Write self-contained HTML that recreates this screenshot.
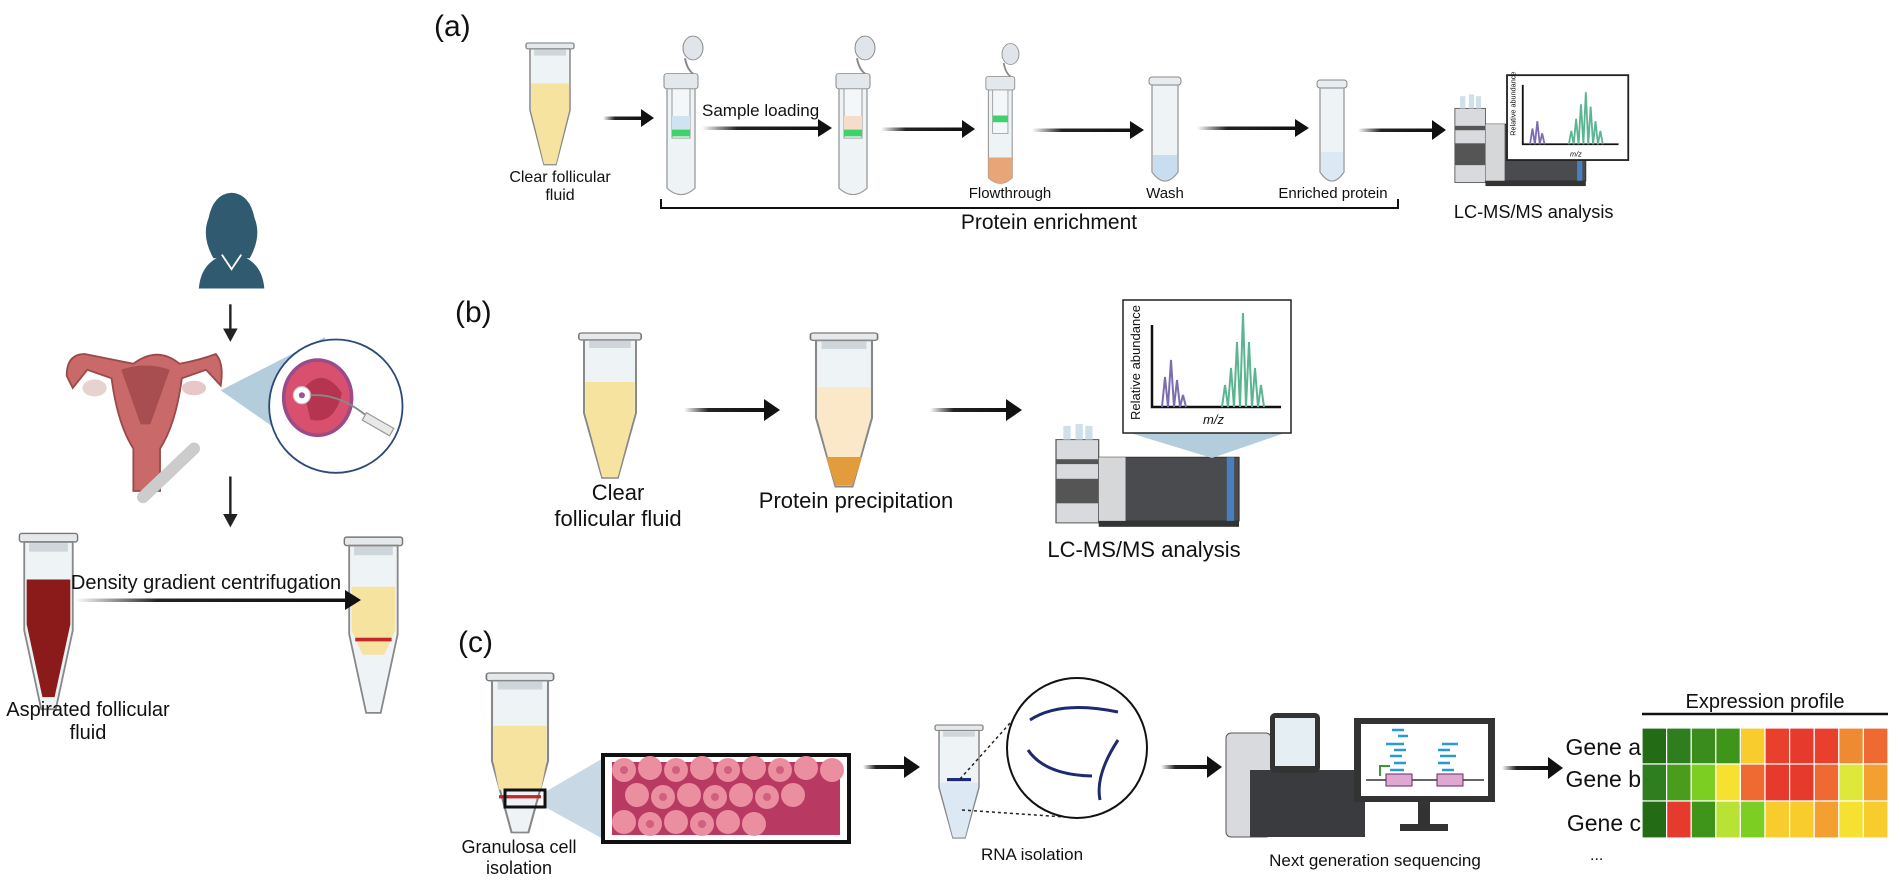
<!DOCTYPE html>
<html><head><meta charset="utf-8"><style>
html,body{margin:0;padding:0;background:#fff;overflow:hidden;}
svg{display:block;font-family:"Liberation Sans",sans-serif;}
</style></head><body>
<svg width="1901" height="886" viewBox="0 0 1901 886" xmlns="http://www.w3.org/2000/svg">
<defs>
<linearGradient id="ag" x1="0" x2="1" y1="0" y2="0"><stop offset="0" stop-color="#fff"/><stop offset="0.3" stop-color="#222"/><stop offset="1" stop-color="#111"/></linearGradient>
<g id="tube">
<rect x="-4" y="0" width="48" height="7" rx="2" fill="#e6e9ec" stroke="#777" stroke-width="1.2"/>
<path d="M0,7 L40,7 L40,80 L26,145 L14,145 L0,80 Z" fill="#eef3f6" stroke="#888" stroke-width="1.5"/>
<rect x="4" y="8" width="32" height="7" fill="#cfd6db"/>
</g>
<g id="col">
<path d="M4,0 L32,0 L32,125 Q18,140 4,125 Z" fill="#eef3f6" stroke="#999" stroke-width="1.3"/>
<rect x="1" y="-10" width="34" height="18" rx="3" fill="#e3e8ec" stroke="#888"/>
<rect x="9" y="8" width="18" height="58" fill="#f4f7f9" stroke="#999"/>
<ellipse cx="30" cy="-40" rx="10" ry="14" fill="#dfe5ea" stroke="#888"/>
<path d="M22,-28 Q24,-15 30,-10" fill="none" stroke="#888" stroke-width="2"/>
</g>
<g id="lcms">
<rect x="0" y="20" width="35" height="85" fill="#d8dadd" stroke="#555"/>
<rect x="0" y="40" width="35" height="5" fill="#555"/><rect x="0" y="60" width="35" height="25" fill="#555"/>
<rect x="35" y="38" width="115" height="65" fill="#4a4b4e" stroke="#333"/>
<rect x="35" y="38" width="22" height="65" fill="#d5d7d9"/>
<rect x="140" y="38" width="6" height="65" fill="#4a7fbf"/>
<rect x="35" y="103" width="115" height="6" fill="#333"/>
<rect x="6" y="6" width="6" height="14" fill="#cfe0ea"/><rect x="16" y="4" width="6" height="16" fill="#cfe0ea"/><rect x="24" y="6" width="6" height="14" fill="#cfe0ea"/>
</g>
</defs>

<!-- LEFT PANEL (scaled) -->
<g transform="scale(1.2124)">
<g fill="#2f5a70">
<path d="M176,213 Q166,195 172,180 Q176,160 191,159 Q206,160 210,180 Q216,195 206,213 Z"/>
<path d="M164,238 Q166,213 191,209 Q216,213 218,238 Z"/>
</g>
<path d="M183,210 L191,222 L199,210" fill="none" stroke="#fff" stroke-width="1.5"/>
<g stroke="#222" stroke-width="2"><line x1="190" y1="251" x2="190" y2="272"/><line x1="190" y1="393" x2="190" y2="425"/></g>
<path d="M184,271 L196,271 L190,282 Z M184,424 L196,424 L190,435 Z" fill="#222"/>
<path d="M55,310 Q55,292 70,292 Q95,297 110,300 Q130,285 148,300 Q165,297 178,292 Q185,300 182,318 L170,305 L150,312 Q145,350 132,370 L132,405 L110,405 L110,370 Q97,350 92,312 L72,305 L60,320 Z" fill="#c9696a" stroke="#9a4a4a" stroke-width="1.5"/>
<path d="M100,305 Q120,298 140,305 L124,350 L116,350 Z" fill="#a84e50"/>
<ellipse cx="78" cy="320" rx="10" ry="7" fill="#e6d3cf"/>
<ellipse cx="160" cy="320" rx="10" ry="6" fill="#e7c7c7"/>
<path d="M118,410 L160,370" stroke="#ccc" stroke-width="10" stroke-linecap="round"/>
<polygon points="182,322 268,278 268,382" fill="#b4cddd"/>
<circle cx="277" cy="335" r="55" fill="#fff" stroke="#2b4a7a" stroke-width="1.5"/>
<ellipse cx="262" cy="328" rx="28" ry="31" fill="#d8506e" stroke="#9a4c88" stroke-width="3"/>
<path d="M250,321 Q266,301 282,324 Q276,351 256,346 Z" fill="#b53550"/>
<circle cx="249" cy="326" r="7" fill="#fff" stroke="#ccc"/><circle cx="249" cy="326" r="2.5" fill="#a050a0"/>
<path d="M256,326 Q281,324 306,346" stroke="#888" stroke-width="1.5" fill="none"/>
<rect x="300" y="343" width="26" height="7" fill="#e8e8e8" stroke="#999" transform="rotate(30 306 346)"/>
<use href="#tube" x="20" y="440"/>
<path d="M22,478 L58,478 L58,515 L45,575 L35,575 L22,515 Z" fill="#8b1a1a"/>
<use href="#tube" x="288" y="443"/>
<path d="M290,484 L326,484 L326,520 L317,540 L299,540 L290,520 Z" fill="#f7e3a0"/>
<rect x="293" y="526" width="30" height="3" fill="#c0282a"/>
</g>
<rect x="75" y="598.5" width="275" height="3.5" fill="url(#ag)"/>
<path d="M345,590 L361,600 L345,610 Z" fill="#111"/>
<text x="206" y="589" font-size="20" text-anchor="middle" fill="#111">Density gradient centrifugation</text>
<text x="88" y="716" font-size="20" text-anchor="middle" fill="#111">Aspirated follicular</text>
<text x="88" y="739" font-size="20" text-anchor="middle" fill="#111">fluid</text>

<!-- (a) -->
<text x="434" y="36" font-size="30" fill="#111">(a)</text>
<g transform="translate(530,43) scale(1,0.84)"><use href="#tube"/><path d="M1,48 L39,48 L39,80 L26,144 L14,144 L1,80 Z" fill="#f7e3a0"/></g>
<text x="560" y="182" font-size="16" text-anchor="middle" fill="#111">Clear follicular</text>
<text x="560" y="200" font-size="16" text-anchor="middle" fill="#111">fluid</text>
<g transform="translate(663,82) scale(1,0.85)"><use href="#col"/><rect x="9" y="40" width="18" height="16" fill="#cfe4f0"/><rect x="9" y="56" width="18" height="8" fill="#3fd26a"/></g>
<g transform="translate(835,82) scale(1,0.85)"><use href="#col"/><rect x="9" y="40" width="18" height="16" fill="#f6dcca"/><rect x="9" y="56" width="18" height="8" fill="#3fd26a"/></g>
<g transform="translate(985,84) scale(0.85,0.75)"><use href="#col"/><rect x="9" y="42" width="18" height="9" fill="#3fd26a"/><path d="M4,98 L32,98 L32,125 Q18,140 4,125 Z" fill="#e7a578"/></g>
<rect x="1149" y="77" width="32" height="8" rx="3" fill="#e6ecf0" stroke="#888"/>
<path d="M1152,85 L1178,85 L1178,172 Q1165,190 1152,172 Z" fill="#eef3f6" stroke="#999" stroke-width="1.3"/>
<path d="M1153,155 L1177,155 L1177,172 Q1165,188 1153,172 Z" fill="#c9ddf0"/>
<rect x="1317" y="80" width="30" height="8" rx="3" fill="#e6ecf0" stroke="#888"/>
<path d="M1320,88 L1344,88 L1344,172 Q1332,190 1320,172 Z" fill="#eef3f6" stroke="#999" stroke-width="1.3"/>
<path d="M1321,152 L1343,152 L1343,172 Q1332,188 1321,172 Z" fill="#dce9f4"/>
<g fill="url(#ag)">
<rect x="603" y="116.5" width="40" height="3.5"/><rect x="702" y="126.5" width="118" height="3.5"/>
<rect x="881" y="127.5" width="83" height="3.5"/><rect x="1032" y="128.5" width="100" height="3.5"/>
<rect x="1197" y="126.5" width="100" height="3.5"/><rect x="1358" y="128.5" width="76" height="3.5"/></g>
<g fill="#111"><path d="M641,109 L654,118 L641,127Z M818,119 L832,128 L818,137Z M962,120 L975,129 L962,138Z M1130,121 L1144,130 L1130,139Z M1295,119 L1309,128 L1295,137Z M1432,120 L1446,130 L1432,140Z"/></g>
<text x="702" y="116" font-size="17" fill="#111">Sample loading</text>
<text x="1010" y="198" font-size="15" text-anchor="middle" fill="#111">Flowthrough</text>
<text x="1165" y="198" font-size="15" text-anchor="middle" fill="#111">Wash</text>
<text x="1333" y="198" font-size="15" text-anchor="middle" fill="#111">Enriched protein</text>
<path d="M661,199 L661,208 L1398,208 L1398,199" fill="none" stroke="#111" stroke-width="2"/>
<text x="1049" y="229" font-size="21" text-anchor="middle" fill="#111">Protein enrichment</text>
<g transform="scale(1.2124)">
<g transform="translate(1200,75) scale(0.72)"><use href="#lcms"/></g>
<polygon points="1248,130 1338,130 1295,112" fill="#b4cddd"/>
<rect x="1243" y="62" width="100" height="70" fill="#fff" stroke="#222" stroke-width="1.5"/>
<path d="M1256,70 L1256,119 L1335,119" fill="none" stroke="#111" stroke-width="1.5"/>
<path d="M1262,119 L1264,106 L1266,119 L1268,100 L1270,119 L1272,110 L1274,119" fill="none" stroke="#7c6cb0" stroke-width="1.5"/>
<path d="M1294,119 L1296,108 L1298,119 L1300,98 L1302,119 L1304,86 L1306,119 L1308,76 L1310,119 L1312,88 L1314,119 L1316,100 L1318,119 L1320,108 L1322,119" fill="none" stroke="#5bb592" stroke-width="1.5"/>
<text x="1250" y="112" font-size="6" transform="rotate(-90 1250 112)" fill="#111">Relative abundance</text>
<text x="1295" y="129" font-size="6" font-style="italic" fill="#111">m/z</text>
<text x="1265" y="180" font-size="15" text-anchor="middle" fill="#111">LC-MS/MS analysis</text>
</g>

<!-- (b) -->
<text x="455" y="322" font-size="30" fill="#111">(b)</text>
<g transform="translate(584,333) scale(1.3,1)"><use href="#tube"/><path d="M1,49 L39,49 L39,80 L26,144 L14,144 L1,80 Z" fill="#f7e3a0"/></g>
<g transform="translate(816,333) scale(1.4,1.06)"><use href="#tube"/><path d="M1,51 L39,51 L39,80 L26,144 L14,144 L1,80 Z" fill="#fbe8c8"/><path d="M33,117 L26,144 L14,144 L7,117 Z" fill="#e29c3c"/></g>
<text x="618" y="500" font-size="22" text-anchor="middle" fill="#111">Clear</text>
<text x="618" y="526" font-size="22" text-anchor="middle" fill="#111">follicular fluid</text>
<text x="856" y="508" font-size="22" text-anchor="middle" fill="#111">Protein precipitation</text>
<g fill="url(#ag)"><rect x="684" y="408" width="82" height="4"/><rect x="930" y="408" width="78" height="4"/></g>
<path d="M764,399 L780,410 L764,421Z M1006,399 L1022,410 L1006,421Z" fill="#111"/>
<g transform="translate(1056,420) scale(1.22,0.98)"><use href="#lcms"/></g>
<polygon points="1130,433 1285,433 1212,458" fill="#b4cddd"/>
<rect x="1123" y="300" width="168" height="133" fill="#fff" stroke="#222" stroke-width="1.5"/>
<path d="M1152,325 L1152,407 L1281,407" fill="none" stroke="#111" stroke-width="2.5"/>
<path d="M1162,407 L1165,377 L1168,407 L1171,360 L1174,407 L1177,380 L1180,407 L1183,395 L1186,407" fill="none" stroke="#7c6cb0" stroke-width="2"/>
<path d="M1222,407 L1225,385 L1228,407 L1231,368 L1234,407 L1237,342 L1240,407 L1243,313 L1246,407 L1249,342 L1252,407 L1255,368 L1258,407 L1261,385 L1264,407" fill="none" stroke="#5bb592" stroke-width="2"/>
<text x="1140" y="420" font-size="13" transform="rotate(-90 1140 420)" fill="#111">Relative abundance</text>
<text x="1203" y="424" font-size="13" font-style="italic" fill="#111">m/z</text>
<text x="1144" y="557" font-size="22" text-anchor="middle" fill="#111">LC-MS/MS analysis</text>

<!-- (c) -->
<text x="458" y="652" font-size="30" fill="#111">(c)</text>
<polygon points="545,792 605,757 605,840 545,807" fill="#c8d8e4"/>
<g transform="translate(492,673) scale(1.4,1.1)"><use href="#tube"/><path d="M1,48 L39,48 L39,80 L35,106 L5,106 L1,80 Z" fill="#f7e3a0"/><rect x="5" y="111" width="30" height="3" fill="#c0282a"/></g>
<rect x="505" y="790" width="40" height="17" fill="none" stroke="#111" stroke-width="3"/>
<rect x="603" y="755" width="246" height="87" fill="#fff" stroke="#111" stroke-width="4"/>
<rect x="612" y="762" width="228" height="73" fill="#b83a62"/>
<g fill="#ea8ea0">
<circle cx="624" cy="770" r="12"/><circle cx="650" cy="768" r="12"/><circle cx="676" cy="770" r="12"/><circle cx="702" cy="768" r="12"/><circle cx="728" cy="770" r="12"/><circle cx="754" cy="768" r="12"/><circle cx="780" cy="770" r="12"/><circle cx="806" cy="768" r="12"/><circle cx="832" cy="770" r="12"/>
<circle cx="637" cy="795" r="12"/><circle cx="663" cy="797" r="12"/><circle cx="689" cy="795" r="12"/><circle cx="715" cy="797" r="12"/><circle cx="741" cy="795" r="12"/><circle cx="767" cy="797" r="12"/><circle cx="793" cy="795" r="12"/>
<circle cx="624" cy="822" r="12"/><circle cx="650" cy="824" r="12"/><circle cx="676" cy="822" r="12"/><circle cx="702" cy="824" r="12"/><circle cx="728" cy="822" r="12"/><circle cx="754" cy="824" r="12"/>
</g>
<g fill="#d1607e"><circle cx="624" cy="770" r="4"/><circle cx="676" cy="770" r="4"/><circle cx="728" cy="770" r="4"/><circle cx="780" cy="770" r="4"/><circle cx="663" cy="797" r="4"/><circle cx="715" cy="797" r="4"/><circle cx="767" cy="797" r="4"/><circle cx="650" cy="824" r="4"/><circle cx="702" cy="824" r="4"/></g>
<text x="519" y="853" font-size="18" text-anchor="middle" fill="#111">Granulosa cell</text>
<text x="519" y="874" font-size="18" text-anchor="middle" fill="#111">isolation</text>
<rect x="863" y="765" width="43" height="4" fill="url(#ag)"/><path d="M904,756 L920,767 L904,778Z" fill="#111"/>
<g transform="translate(939,725) scale(1.0,0.78)"><use href="#tube"/><path d="M1,74 L39,74 L39,80 L26,144 L14,144 L1,80 Z" fill="#dce9f4"/><rect x="8" y="68" width="24" height="4" fill="#1a2a80"/></g>
<line x1="960" y1="779" x2="1020" y2="712" stroke="#222" stroke-width="1.5" stroke-dasharray="3,3"/><line x1="962" y1="810" x2="1065" y2="817" stroke="#222" stroke-width="1.5" stroke-dasharray="3,3"/>
<ellipse cx="1077" cy="748" rx="70" ry="70" fill="#fff" stroke="#111" stroke-width="2"/>
<g fill="none" stroke="#1e2a70" stroke-width="3"><path d="M1030,720 Q1060,700 1118,712"/><path d="M1028,750 Q1045,775 1092,776"/><path d="M1118,740 Q1095,775 1100,800"/></g>
<text x="1032" y="860" font-size="17" text-anchor="middle" fill="#111">RNA isolation</text>
<rect x="1161" y="765" width="48" height="4" fill="url(#ag)"/><path d="M1207,756 L1222,767 L1207,778Z" fill="#111"/>
<rect x="1226" y="733" width="45" height="104" rx="5" fill="#d8dadd" stroke="#555"/>
<rect x="1250" y="770" width="115" height="67" fill="#3a3b3e"/>
<rect x="1270" y="713" width="50" height="60" rx="5" fill="#333"/><rect x="1275" y="718" width="40" height="48" fill="#e5eef3"/>
<rect x="1354" y="718" width="141" height="84" fill="#333"/><rect x="1361" y="724" width="127" height="72" fill="#fff"/>
<rect x="1418" y="802" width="12" height="24" fill="#333"/><rect x="1400" y="824" width="48" height="7" fill="#333"/>
<line x1="1366" y1="780" x2="1484" y2="780" stroke="#333" stroke-width="1.5"/>
<rect x="1386" y="774" width="26" height="12" fill="#dfa8d0" stroke="#6a2860"/><rect x="1437" y="774" width="26" height="12" fill="#dfa8d0" stroke="#6a2860"/>
<g stroke="#2a9ad6" stroke-width="2.5"><line x1="1392" y1="730" x2="1404" y2="730"/><line x1="1398" y1="736" x2="1408" y2="736"/><line x1="1386" y1="744" x2="1404" y2="744"/><line x1="1394" y1="750" x2="1406" y2="750"/><line x1="1390" y1="756" x2="1402" y2="756"/><line x1="1394" y1="763" x2="1406" y2="763"/><line x1="1390" y1="770" x2="1404" y2="770"/><line x1="1442" y1="744" x2="1458" y2="744"/><line x1="1438" y1="750" x2="1450" y2="750"/><line x1="1440" y1="756" x2="1456" y2="756"/><line x1="1438" y1="763" x2="1450" y2="763"/><line x1="1442" y1="770" x2="1454" y2="770"/></g>
<path d="M1380,776 L1380,766 L1390,766" fill="none" stroke="#3a9a3a" stroke-width="2"/>
<text x="1375" y="866" font-size="17" text-anchor="middle" fill="#111">Next generation sequencing</text>
<rect x="1502" y="766" width="48" height="4" fill="url(#ag)"/><path d="M1548,757 L1563,768 L1548,779Z" fill="#111"/>
<text x="1765" y="708" font-size="20" text-anchor="middle" fill="#111">Expression profile</text>
<line x1="1642" y1="714" x2="1888" y2="714" stroke="#111" stroke-width="2.5"/>
<g font-size="23" fill="#111" text-anchor="end"><text x="1641" y="755">Gene a</text><text x="1641" y="787">Gene b</text><text x="1641" y="831">Gene c</text></g>
<text x="1590" y="860" font-size="16" fill="#111">...</text>
<g stroke="#fff" stroke-width="1.2">
<rect x="1642" y="728" width="24.6" height="36" fill="#246b16"/><rect x="1666.6" y="728" width="24.6" height="36" fill="#2e7d1e"/><rect x="1691.2" y="728" width="24.6" height="36" fill="#3a8c1c"/><rect x="1715.8" y="728" width="24.6" height="36" fill="#3f951a"/><rect x="1740.4" y="728" width="24.6" height="36" fill="#f8cc2c"/><rect x="1765" y="728" width="24.6" height="36" fill="#e8402c"/><rect x="1789.6" y="728" width="24.6" height="36" fill="#e53a2c"/><rect x="1814.2" y="728" width="24.6" height="36" fill="#e8402c"/><rect x="1838.8" y="728" width="24.6" height="36" fill="#ee8a32"/><rect x="1863.4" y="728" width="24.6" height="36" fill="#ee6a32"/>
<rect x="1642" y="764" width="24.6" height="37" fill="#2e7d1e"/><rect x="1666.6" y="764" width="24.6" height="37" fill="#4a9c1c"/><rect x="1691.2" y="764" width="24.6" height="37" fill="#7ccf22"/><rect x="1715.8" y="764" width="24.6" height="37" fill="#f6e030"/><rect x="1740.4" y="764" width="24.6" height="37" fill="#ee6a32"/><rect x="1765" y="764" width="24.6" height="37" fill="#e53a2c"/><rect x="1789.6" y="764" width="24.6" height="37" fill="#e53a2c"/><rect x="1814.2" y="764" width="24.6" height="37" fill="#ee6a32"/><rect x="1838.8" y="764" width="24.6" height="37" fill="#dde83a"/><rect x="1863.4" y="764" width="24.6" height="37" fill="#f3a030"/>
<rect x="1642" y="801" width="24.6" height="37" fill="#246b16"/><rect x="1666.6" y="801" width="24.6" height="37" fill="#e53a2c"/><rect x="1691.2" y="801" width="24.6" height="37" fill="#3f951a"/><rect x="1715.8" y="801" width="24.6" height="37" fill="#b8e234"/><rect x="1740.4" y="801" width="24.6" height="37" fill="#7ccf22"/><rect x="1765" y="801" width="24.6" height="37" fill="#f8cc2c"/><rect x="1789.6" y="801" width="24.6" height="37" fill="#f8cc2c"/><rect x="1814.2" y="801" width="24.6" height="37" fill="#f3a030"/><rect x="1838.8" y="801" width="24.6" height="37" fill="#f6e030"/><rect x="1863.4" y="801" width="24.6" height="37" fill="#f8cc2c"/>
</g>
</svg>
</body></html>
